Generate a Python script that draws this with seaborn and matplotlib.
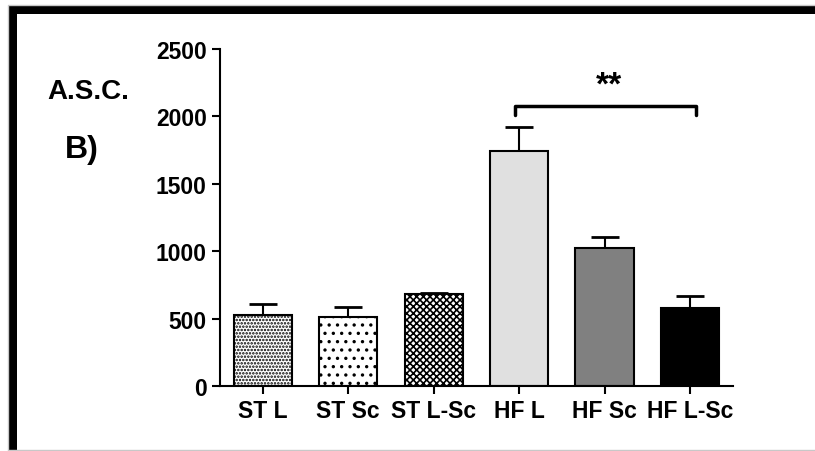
import pandas as pd
import matplotlib.pyplot as plt
import seaborn as sns
from matplotlib.patches import Rectangle
from matplotlib.lines import Line2D

# Data
groups = ['ST L', 'ST Sc', 'ST L-Sc', 'HF L', 'HF Sc', 'HF L-Sc']
means = [530, 510, 683, 1745, 1022, 581]
sems = [75, 78, 8, 180, 86, 84]
colors = ['white', 'white', 'white', '#e0e0e0', '#808080', '#000000']
hatches = ['.....', '..', 'xxxxx', '', '', '']

sns.set_style('ticks')
plt.rcParams['font.family'] = ['Liberation Sans', 'DejaVu Sans']
plt.rcParams['font.weight'] = 'bold'
plt.rcParams['text.color'] = 'black'
plt.rcParams['hatch.linewidth'] = 1.2

df = pd.DataFrame({'Group': groups, 'Value': means})

fig = plt.figure(figsize=(8.15, 4.52), dpi=100)
ax = fig.add_axes([0.27, 0.1438, 0.629, 0.7455])

sns.barplot(data=df, x='Group', y='Value', hue='Group', palette=colors,
            order=groups, errorbar=None, width=0.68, edgecolor='black',
            linewidth=1.5, legend=False, ax=ax)

for patch, h in zip(ax.patches, hatches):
    patch.set_hatch(h)

# upper-only error bars (stem hidden behind the bars)
eb = ax.errorbar(range(len(groups)), means, yerr=[[0] * len(groups), sems],
                 fmt='none', ecolor='black', elinewidth=1.5, capsize=10,
                 capthick=2, zorder=1)
eb[1][0].set_visible(False)

ax.set_xlim(-0.5, 5.5)
ax.set_ylim(0, 2500)
ax.set_yticks([0, 500, 1000, 1500, 2000, 2500])
ax.set_xlabel('')
ax.set_ylabel('')
ax.tick_params(labelsize=16.5, width=1.5, length=6, colors='black')
for lab in ax.get_xticklabels() + ax.get_yticklabels():
    lab.set_fontweight('bold')
sns.despine(ax=ax)
for s in ['left', 'bottom']:
    ax.spines[s].set_linewidth(1.5)
    ax.spines[s].set_color('black')

# significance bracket
ax.plot([2.95, 2.95, 5.07, 5.07], [2010, 2080, 2080, 2010], color='black',
        lw=2.5, clip_on=False)
ax.text(4.05, 2230, '**', ha='center', va='center', fontsize=24,
        fontweight='bold', color='black')

fig.text(88 / 815, 1 - 92 / 452, 'A.S.C.', ha='center', va='center',
         fontsize=20, fontweight='bold', color='black')
fig.text(82 / 815, 1 - 150 / 452, 'B)', ha='center', va='center',
         fontsize=23, fontweight='bold', color='black')

# frame around the panel
fig.add_artist(Line2D([8 / 815, 8 / 815, 1], [1 - 451 / 452, 1 - 6 / 452, 1 - 6 / 452],
                      transform=fig.transFigure, color='#c8c8c8', lw=1))
fig.add_artist(Line2D([8 / 815, 1], [1 - 451 / 452, 1 - 451 / 452],
                      transform=fig.transFigure, color='#c8c8c8', lw=1))
fig.add_artist(Rectangle((9 / 815, 1 - 14.5 / 452), 1, 8 / 452,
                         transform=fig.transFigure, color='black', lw=0))
fig.add_artist(Rectangle((9 / 815, 0), 7.5 / 815, 1 - 7 / 452,
                         transform=fig.transFigure, color='black', lw=0))

fig.savefig('out.png', dpi=100)
plt.close()
